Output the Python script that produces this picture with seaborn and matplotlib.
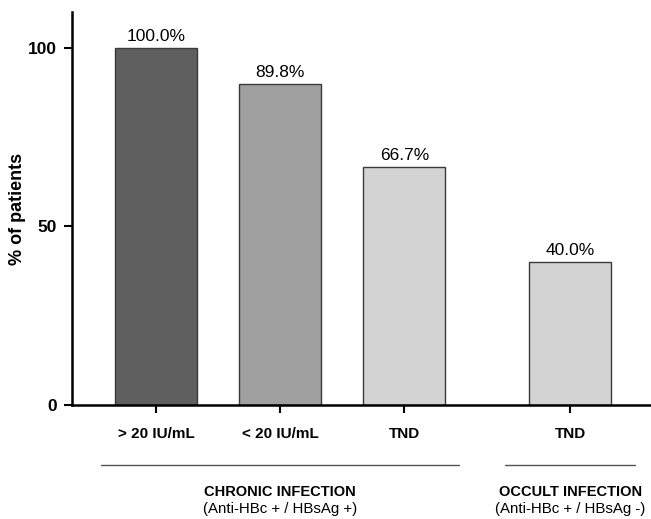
import numpy as np
import pandas as pd
import matplotlib
matplotlib.use('Agg')
import matplotlib.pyplot as plt
import matplotlib.transforms as mtransforms
import seaborn as sns

# values
positions = [0, 1, 2, 3.34]
percents = [100.0, 89.8, 66.7, 40.0]
tick_labels = ['> 20 IU/mL', '< 20 IU/mL', 'TND', 'TND']
bar_colors = ['#5f5f5f', '#a0a0a0', '#d3d3d3', '#d3d3d3']
groups = ['CHRONIC INFECTION', 'OCCULT INFECTION']
group_sub = ['(Anti-HBc + / HBsAg +)', '(Anti-HBc + / HBsAg -)']
group_centers = [1.0, 3.34]
group_spans = [(-0.45, 2.44), (2.81, 3.86)]

sns.set_style('ticks', {'text.color': 'black', 'axes.labelcolor': 'black',
                        'xtick.color': 'black', 'ytick.color': 'black'})
plt.rcParams['font.family'] = ['Liberation Sans', 'DejaVu Sans']

df = pd.DataFrame({'pos': positions, 'pct': percents, 'lab': tick_labels})

fig = plt.figure(figsize=(6.51, 5.19), dpi=100)
ax = fig.add_axes([0.1106, 0.2197, 0.8894, 0.757])

sns.barplot(data=df, x='pos', y='pct', hue='pos', palette=bar_colors,
            native_scale=True, width=0.66, edgecolor='#3a3a3a', linewidth=1,
            legend=False, ax=ax)

for c in ax.containers:
    ax.bar_label(c, fmt='%.1f%%', padding=3, fontsize=12.5, color='black')

ax.set_xlim(-0.68, 3.99)
ax.set_ylim(0, 110)
ax.set_yticks([0, 50, 100])
ax.set_yticklabels(['0', '50', '100'], fontsize=12.5, fontweight='bold')
ax.set_xticks(positions)
ax.set_xticklabels(tick_labels, fontsize=11, fontweight='bold')
ax.tick_params(axis='both', length=6, width=1.5, color='black', pad=5)
ax.tick_params(axis='x', pad=10)
ax.set_xlabel('')
ax.set_ylabel('% of patients', fontsize=13, fontweight='bold', labelpad=1,
              color='black')

sns.despine(ax=ax)
for s in ['left', 'bottom']:
    ax.spines[s].set_linewidth(1.8)
    ax.spines[s].set_color('black')

trans = mtransforms.blended_transform_factory(ax.transData, ax.transAxes)
for (x0, x1), name, sub, cx in zip(group_spans, groups, group_sub, group_centers):
    ax.plot([x0, x1], [-0.153, -0.153], color='#555555', lw=1,
            transform=trans, clip_on=False)
    ax.text(cx, -0.221, name, transform=trans, ha='center', va='center',
            fontsize=10.5, fontweight='bold', color='black')
    ax.text(cx, -0.265, sub, transform=trans, ha='center', va='center',
            fontsize=10.8, color='black')

fig.savefig('out.png', dpi=100)
